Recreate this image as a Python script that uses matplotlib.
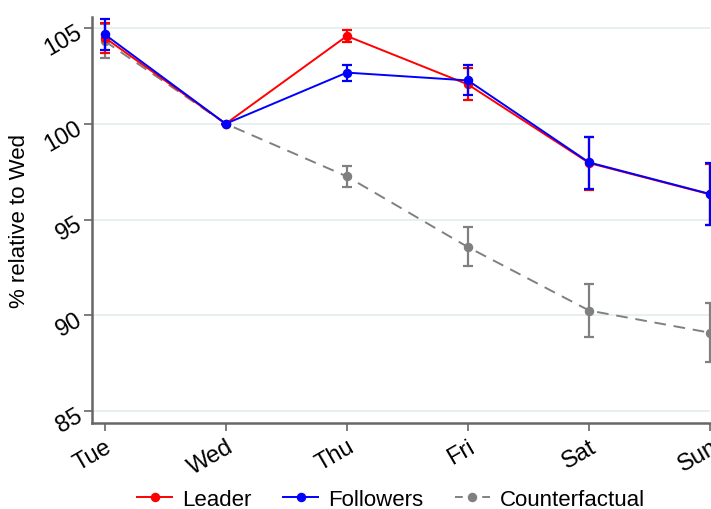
import matplotlib
matplotlib.use("Agg")
import matplotlib.pyplot as plt
from matplotlib.lines import Line2D

days = ["Tue", "Wed", "Thu", "Fri", "Sat", "Sun"]

leader = [104.50, 100.0, 104.58, 102.05, 97.95, 96.31]
leader_lo = [103.69, 100.0, 104.27, 101.26, 96.56, 94.70]
leader_hi = [105.24, 100.0, 104.87, 102.91, 99.29, 97.91]

followers = [104.67, 100.0, 102.67, 102.26, 97.98, 96.33]
followers_lo = [103.83, 100.0, 102.23, 101.52, 96.62, 94.74]
followers_hi = [105.47, 100.0, 103.08, 103.05, 99.33, 97.95]

counterfactual = [104.32, 100.0, 97.25, 93.56, 90.25, 89.09]
counterfactual_lo = [103.43, 100.0, 96.71, 92.55, 88.89, 87.54]
counterfactual_hi = [105.21, 100.0, 97.79, 94.59, 91.61, 90.66]

plt.rcParams['font.family'] = ['Liberation Sans', 'DejaVu Sans']

fig = plt.figure(figsize=(7.11, 5.10), dpi=100)
ax = fig.add_axes([0.129, 0.169, 0.870, 0.796])

x = list(range(len(days)))
handles = []

def draw(vals, lo, hi, color, ls, label, z):
    err = [[v - l for v, l in zip(vals, lo)], [h - v for v, h in zip(vals, hi)]]
    dash = (6, 4) if ls == '--' else (None, None)
    ax.errorbar(x, vals, yerr=err, color=color, ls=ls, lw=1.4, marker='o', ms=5.8,
                capsize=3.8, elinewidth=1.6, capthick=1.6, zorder=z,
                clip_on=False, dashes=dash)
    h = Line2D([], [], color=color, ls=ls, lw=1.4, marker='o', ms=5.8)
    if ls == '--':
        h.set_dashes((4, 3))
    handles.append((label, h))

draw(counterfactual, counterfactual_lo, counterfactual_hi, '#808080', '--', 'Counterfactual', 3)
draw(leader, leader_lo, leader_hi, '#ff0000', '-', 'Leader', 4)
draw(followers, followers_lo, followers_hi, '#0000ff', '-', 'Followers', 5)

ax.set_xlim(-0.106, 5.0)
ax.set_ylim(84.39, 105.58)
ax.set_yticks([85, 90, 95, 100, 105])
ax.set_xticks(x)
ax.set_xticklabels(days)
ax.grid(axis='y', color='#e6eef0', lw=1.3)
ax.set_axisbelow(True)

for s in ['top', 'right']:
    ax.spines[s].set_visible(False)
for s in ['left', 'bottom']:
    ax.spines[s].set_color('#666666')
    ax.spines[s].set_linewidth(1.8)

ax.tick_params(colors='#666666', length=6, width=1.2, labelcolor='black', labelsize=17, pad=3)
for lab in ax.get_xticklabels():
    lab.set_rotation(30)
    lab.set_ha('right')
    lab.set_rotation_mode('anchor')
for lab in ax.get_yticklabels():
    lab.set_rotation(30)
    lab.set_ha('right')
    lab.set_rotation_mode('anchor')

ax.set_ylabel('% relative to Wed', fontsize=16, labelpad=8)

hd = dict(handles)
names = ['Leader', 'Followers', 'Counterfactual']
fig.legend([hd[n] for n in names], names,
           loc='center', bbox_to_anchor=(0.55, 0.019), ncol=3, frameon=False,
           fontsize=16, handlelength=1.6, columnspacing=1.4, handletextpad=0.45)

fig.savefig('out.png', dpi=100)
